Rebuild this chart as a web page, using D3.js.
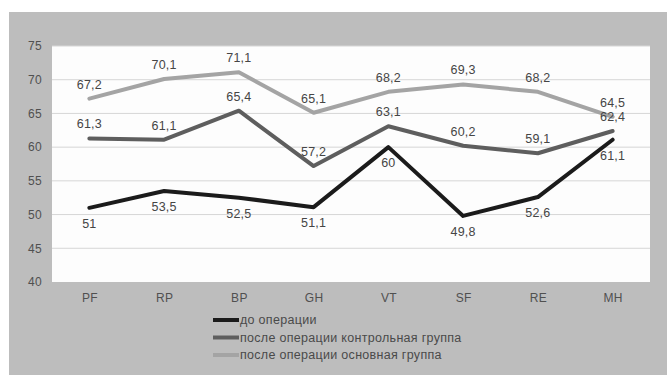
<!DOCTYPE html>
<html>
<head>
<meta charset="utf-8">
<script src="https://cdn.jsdelivr.net/npm/d3@7"></script>
<style>
  html, body { margin: 0; padding: 0; background: #ffffff; }
  svg { display: block; font-family: "Liberation Sans", Arial, sans-serif; }
</style>
</head>
<body>
<svg id="chart" width="667" height="375"></svg>
<script>
// Scale categories (SF-36 domains)
const categories = ["PF", "RP", "BP", "GH", "VT", "SF", "RE", "MH"];

// Scores per group
const beforeSurgery = [51, 53.5, 52.5, 51.1, 60, 49.8, 52.6, 61.1];
const afterControl = [61.3, 61.1, 65.4, 57.2, 63.1, 60.2, 59.1, 62.4];
const afterMain = [67.2, 70.1, 71.1, 65.1, 68.2, 69.3, 68.2, 64.5];

// Y axis ticks
const yTicks = [40, 45, 50, 55, 60, 65, 70, 75];

const seriesNames = [
  "до операции",
  "после операции контрольная группа",
  "после операции основная группа"
];

const series = [
  { name: seriesNames[0], values: beforeSurgery, color: "#1b1b1b", labelPos: "below" },
  { name: seriesNames[1], values: afterControl, color: "#5e5e5e", labelPos: "above" },
  { name: seriesNames[2], values: afterMain, color: "#a4a4a4", labelPos: "above" }
];

const svg = d3.select("#chart");
const W = 667, H = 375;

// outer grey panel
svg.append("rect")
  .attr("x", 9).attr("y", 12)
  .attr("width", W - 9).attr("height", H - 12)
  .attr("fill", "#bdbdbd");

const plot = { left: 52, right: 650, top: 46, bottom: 282 };

const x = d3.scalePoint()
  .domain(categories)
  .range([plot.left, plot.right])
  .padding(0.5);

const y = d3.scaleLinear()
  .domain([40, 75])
  .range([plot.bottom, plot.top]);

// white plotting area
svg.append("rect")
  .attr("x", plot.left).attr("y", plot.top)
  .attr("width", plot.right - plot.left)
  .attr("height", plot.bottom - plot.top)
  .attr("fill", "#fdfdfd");

// horizontal gridlines
svg.append("g")
  .selectAll("line")
  .data(yTicks.filter(t => t > 40))
  .join("line")
  .attr("x1", plot.left).attr("x2", plot.right)
  .attr("y1", d => y(d)).attr("y2", d => y(d))
  .attr("stroke", "#d6d6d6")
  .attr("stroke-width", 1);

// y axis
const yAxis = svg.append("g")
  .attr("transform", `translate(${plot.left},0)`)
  .call(d3.axisLeft(y).tickValues(yTicks).tickSize(0).tickPadding(10));
yAxis.select(".domain").remove();
yAxis.selectAll("text")
  .attr("fill", "#505050")
  .style("font-size", "12px")
  .style("letter-spacing", "0.3px")
  .style("font-family", "'Liberation Sans', Arial, sans-serif");

// x axis
const xAxis = svg.append("g")
  .attr("transform", `translate(0,${plot.bottom})`)
  .call(d3.axisBottom(x).tickSize(0).tickPadding(11));
xAxis.select(".domain").remove();
xAxis.selectAll("text")
  .attr("fill", "#505050")
  .style("font-size", "12px")
  .style("letter-spacing", "0.3px")
  .style("font-family", "'Liberation Sans', Arial, sans-serif");

// lines
const line = d3.line()
  .x((d, i) => x(categories[i]))
  .y(d => y(d));

svg.append("g")
  .selectAll("path")
  .data(series)
  .join("path")
  .attr("d", d => line(d.values))
  .attr("fill", "none")
  .attr("stroke", d => d.color)
  .attr("stroke-width", 4)
  .attr("stroke-linejoin", "round")
  .attr("stroke-linecap", "round");

// value labels
const fmt = v => String(v).replace(".", ",");
series.forEach(s => {
  svg.append("g")
    .selectAll("text")
    .data(s.values)
    .join("text")
    .attr("x", (d, i) => x(categories[i]))
    .attr("y", d => y(d) + (s.labelPos === "below" ? 20 : -10))
    .attr("text-anchor", "middle")
    .attr("fill", "#454545")
    .style("font-size", "12.5px")
    .style("letter-spacing", "0.2px")
    .text(d => fmt(d));
});

// legend
const legend = svg.append("g").attr("transform", "translate(213,320)");
series.forEach((s, i) => {
  const g = legend.append("g").attr("transform", `translate(0,${i * 17.5})`);
  g.append("line")
    .attr("x1", 0).attr("x2", 26)
    .attr("y1", 0).attr("y2", 0)
    .attr("stroke", s.color)
    .attr("stroke-width", 4);
  g.append("text")
    .attr("x", 27).attr("y", 4)
    .attr("fill", "#4a4a4a")
    .style("font-size", "12.5px")
    .style("letter-spacing", "0.3px")
    .text(s.name);
});
</script>
</body>
</html>
